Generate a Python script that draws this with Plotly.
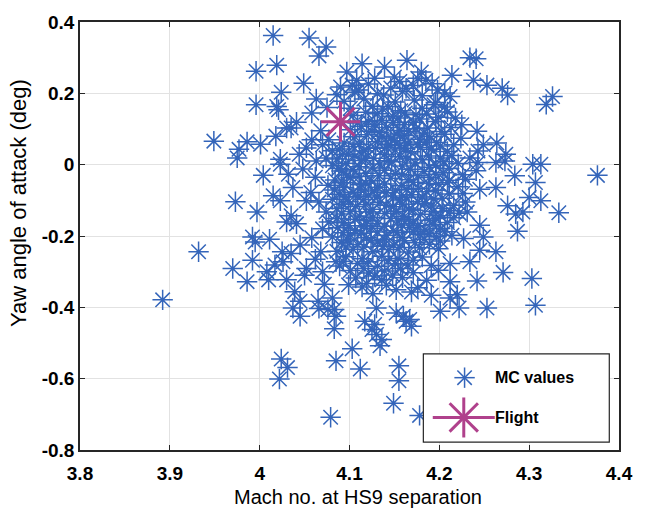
import plotly.graph_objects as go

# Monte-Carlo samples: (Mach no. at HS9 separation, yaw angle of attack in deg)
mc_points = [
    (4.015,0.362),(4.055,0.355),(4.074,0.330),(4.066,0.305),(4.019,0.279),(3.996,0.262),(4.049,0.228),
    (4.024,0.203),(4.063,0.184),(3.996,0.168),(4.019,0.163),(4.021,0.154),(4.041,0.119),(4.035,0.103),
    (4.030,0.103),(4.018,0.080),(3.949,0.066),(3.986,0.064),(4.001,0.057),(3.977,0.043),(3.975,0.019),
    (4.052,0.047),(4.070,0.056),(4.077,0.070),(4.023,0.015),(4.044,0.029),(4.063,0.010),(4.074,0.019),
    (4.081,0.039),
    (4.114,0.283),(4.139,0.274),(4.164,0.293),(4.234,0.300),(4.241,0.297),(4.097,0.260),(4.108,0.237),
    (4.103,0.223),(4.110,0.209),(4.128,0.242),(4.150,0.246),(4.156,0.233),(4.180,0.260),(4.176,0.242),
    (4.185,0.237),(4.163,0.214),(4.198,0.209),(4.214,0.251),(4.238,0.237),(4.138,0.195),(4.143,0.163),
    (4.181,0.158),(4.174,0.140),(4.212,0.191),(4.218,0.131),(4.225,0.112),(4.194,0.168),(4.121,0.121),
    (4.125,0.094),(4.154,0.131),(4.161,0.112),(4.187,0.103),(4.136,0.080),(4.143,0.056),(4.150,0.067),
    (4.165,0.061),(4.176,0.056),(4.099,0.029),(4.118,0.019),(4.139,0.029),(4.216,0.056),(4.201,0.019),
    (4.234,0.019),
    (4.253,0.223),(4.270,0.214),(4.276,0.195),(4.326,0.191),(4.319,0.169),(4.242,0.094),(4.249,0.056),
    (4.264,0.061),(4.243,0.038),(4.274,0.029),(4.273,0.010),(4.243,0.006),(4.263,0.006),(4.304,0.001),
    (4.313,0.001),
    (4.376,-0.030),(4.284,-0.031),(4.307,-0.050),(4.245,-0.069),(4.263,-0.064),(4.300,-0.092),(4.313,-0.101),
    (4.276,-0.115),(4.285,-0.138),(4.293,-0.133),(4.333,-0.135),(4.245,-0.170),(4.249,-0.203),(4.287,-0.187),
    (4.245,-0.240),(4.263,-0.244),(4.271,-0.302),(4.242,-0.326),(4.303,-0.319),(4.307,-0.394),(4.253,-0.402),
    (3.932,-0.244),(3.892,-0.379),
    (4.004,-0.030),(4.023,0.001),(4.032,-0.027),(4.037,-0.064),(4.057,-0.078),(4.052,-0.101),(4.015,-0.087),
    (4.023,-0.101),(3.973,-0.104),(3.997,-0.133),(4.035,-0.143),(4.030,-0.161),(4.041,-0.166),(4.074,-0.133),
    (4.077,-0.161),(4.070,-0.180),(3.992,-0.203),(3.995,-0.217),(4.011,-0.209),(3.992,-0.268),(4.025,-0.244),
    (4.035,-0.249),(4.026,-0.272),(3.970,-0.291),(4.017,-0.281),(4.008,-0.300),(4.010,-0.323),(4.030,-0.323),
    (4.052,-0.291),(3.986,-0.328),(4.068,-0.244),(4.070,-0.300),(4.085,-0.272),(4.039,-0.356),(4.045,-0.383),
    (4.065,-0.383),(4.081,-0.374),
    (4.037,-0.402),(4.045,-0.425),(4.066,-0.403),(4.076,-0.406),(4.083,-0.406),(4.085,-0.425),(4.083,-0.460),
    (4.024,-0.545),(4.031,-0.569),(4.022,-0.601),(4.085,-0.550),(4.079,-0.708),
    (4.117,-0.439),(4.128,-0.448),(4.125,-0.462),(4.130,-0.476),(4.136,-0.490),(4.134,-0.508),(4.130,-0.402),
    (4.152,-0.416),(4.160,-0.425),(4.163,-0.439),(4.167,-0.434),(4.169,-0.453),(4.201,-0.411),(4.222,-0.402),
    (4.103,-0.516),(4.112,-0.573),(4.155,-0.564),(4.155,-0.606),(4.149,-0.669),(4.178,-0.703),
    (4.229,-0.041),(4.212,-0.129),(4.231,-0.133),(4.227,-0.207),(4.234,-0.272),(4.212,-0.277),(4.212,-0.328),
    (4.220,-0.365),(4.212,-0.374),(4.099,-0.337),(4.119,-0.333),(4.152,-0.351),(4.165,-0.281),
    # dense core
    (4.090,0.218),(4.121,0.226),(4.146,0.215),(4.171,0.222),(4.192,0.227),
    (4.086,0.196),(4.106,0.203),(4.131,0.199),(4.159,0.205),(4.181,0.193),(4.206,0.201),
    (4.094,0.178),(4.116,0.184),(4.151,0.176),(4.172,0.181),(4.196,0.174),
    (4.101,0.158),(4.126,0.164),(4.157,0.151),(4.206,0.162),
    (4.104,0.138),(4.131,0.143),(4.148,0.136),(4.186,0.142),(4.199,0.133),
    (4.109,0.117),(4.136,0.124),(4.171,0.119),(4.196,0.121),
    (4.101,0.098),(4.141,0.104),(4.156,0.096),(4.174,0.101),(4.202,0.093),
    (4.106,0.078),(4.119,0.084),(4.146,0.075),(4.161,0.082),(4.189,0.079),(4.206,0.085),
    (4.094,0.061),(4.111,0.057),(4.131,0.064),(4.156,0.054),(4.186,0.063),
    (4.089,0.044),(4.116,0.038),(4.129,0.046),(4.151,0.041),(4.168,0.036),(4.191,0.043),(4.209,0.037),
    (4.086,0.016),(4.106,0.024),(4.127,0.018),(4.156,0.022),(4.181,0.014),(4.214,0.026),
    (4.081,-0.003),(4.096,0.004),(4.111,-0.006),(4.134,0.002),(4.159,-0.004),(4.173,0.005),(4.196,-0.002),(4.221,0.003),
    (4.091,-0.018),(4.118,-0.024),(4.139,-0.016),(4.151,-0.025),(4.183,-0.019),(4.204,-0.023),(4.241,-0.017),
    (4.084,-0.043),(4.101,-0.037),(4.124,-0.045),(4.146,-0.038),(4.166,-0.042),(4.189,-0.036),(4.211,-0.044),
    (4.076,-0.058),(4.094,-0.064),(4.113,-0.056),(4.131,-0.063),(4.158,-0.059),(4.177,-0.066),(4.199,-0.055),(4.221,-0.062),
    (4.089,-0.083),(4.104,-0.077),(4.121,-0.085),(4.141,-0.079),(4.169,-0.084),(4.186,-0.076),(4.211,-0.082),
    (4.081,-0.097),(4.099,-0.104),(4.116,-0.098),(4.134,-0.106),(4.156,-0.099),(4.176,-0.103),(4.194,-0.096),(4.229,-0.105),
    (4.086,-0.123),(4.107,-0.117),(4.126,-0.125),(4.149,-0.118),(4.166,-0.124),(4.191,-0.116),(4.204,-0.122),
    (4.091,-0.138),(4.111,-0.144),(4.139,-0.137),(4.161,-0.146),(4.179,-0.139),(4.201,-0.143),(4.222,-0.136),
    (4.094,-0.163),(4.119,-0.157),(4.131,-0.165),(4.154,-0.158),(4.171,-0.164),(4.189,-0.156),(4.209,-0.162),
    (4.087,-0.177),(4.106,-0.184),(4.124,-0.178),(4.149,-0.185),(4.167,-0.176),(4.184,-0.183),(4.201,-0.179),
    (4.081,-0.203),(4.101,-0.197),(4.119,-0.205),(4.141,-0.198),(4.159,-0.204),(4.179,-0.196),(4.197,-0.202),(4.214,-0.198),
    (4.091,-0.218),(4.109,-0.224),(4.131,-0.217),(4.149,-0.225),(4.173,-0.219),(4.189,-0.223),
    (4.086,-0.243),(4.104,-0.237),(4.126,-0.244),(4.144,-0.238),(4.166,-0.245),(4.199,-0.236),
    (4.096,-0.258),(4.114,-0.264),(4.136,-0.257),(4.154,-0.263),(4.181,-0.259),
    (4.089,-0.284),(4.109,-0.277),(4.131,-0.285),(4.151,-0.278),(4.191,-0.283),
    (4.101,-0.297),(4.121,-0.304),(4.139,-0.298),(4.171,-0.303),(4.199,-0.296),
    (4.107,-0.318),(4.136,-0.323),(4.159,-0.317),(4.186,-0.324),
    (4.114,-0.343),(4.141,-0.338),(4.176,-0.345),
    (4.126,-0.362),(4.169,-0.357),(4.191,-0.366),
    (4.062,-0.035),(4.048,-0.012),(4.066,-0.105),(4.058,-0.205),(4.045,-0.225),(4.062,-0.265),
    (4.050,-0.310),(4.072,-0.335),(4.058,0.070),(4.068,0.095),(4.058,0.145),(4.075,0.160),
    (4.118,0.147),(4.137,0.156),(4.162,0.145),(4.178,0.128),(4.209,0.148),
    (4.113,0.108),(4.128,0.113),(4.149,0.118),(4.166,0.093),(4.183,0.089),(4.213,0.104),
    (4.133,0.091),(4.153,0.086),(4.178,0.071),(4.197,0.062),(4.224,0.074),
    (4.104,0.051),(4.121,0.047),(4.141,0.049),(4.162,0.046),(4.179,0.048),(4.201,0.052),
    (4.092,0.028),(4.113,0.012),(4.143,0.011),(4.164,0.016),(4.188,0.024),(4.205,0.008),
    (4.088,-0.011),(4.104,-0.014),(4.126,-0.009),(4.147,0.008),(4.168,-0.013),(4.189,-0.007),(4.211,-0.011),
    (4.097,-0.029),(4.111,-0.033),(4.133,-0.031),(4.158,-0.028),(4.176,-0.031),(4.196,-0.027),(4.226,-0.028),
    (4.093,-0.051),(4.118,-0.052),(4.139,-0.054),(4.171,-0.049),(4.188,-0.053),(4.209,-0.051),
    (4.083,-0.071),(4.112,-0.068),(4.128,-0.074),(4.151,-0.071),(4.164,-0.069),(4.196,-0.072),(4.226,-0.081),
    (4.095,-0.091),(4.109,-0.089),(4.131,-0.091),(4.148,-0.088),(4.163,-0.093),(4.181,-0.091),(4.203,-0.094),
    (4.093,-0.111),(4.118,-0.112),(4.141,-0.114),(4.159,-0.111),(4.184,-0.109),(4.216,-0.114),
    (4.101,-0.131),(4.123,-0.133),(4.152,-0.131),(4.171,-0.128),(4.193,-0.131),
    (4.086,-0.151),(4.106,-0.153),(4.126,-0.148),(4.146,-0.151),(4.166,-0.153),(4.196,-0.151),(4.216,-0.149),
    (4.099,-0.171),(4.116,-0.171),(4.139,-0.173),(4.158,-0.169),(4.176,-0.171),(4.193,-0.168),
    (4.093,-0.191),(4.113,-0.192),(4.131,-0.189),(4.153,-0.191),(4.171,-0.188),(4.189,-0.192),(4.206,-0.188),
    (4.098,-0.211),(4.124,-0.212),(4.139,-0.209),(4.161,-0.213),(4.183,-0.209),(4.201,-0.214),
    (4.096,-0.231),(4.116,-0.231),(4.137,-0.229),(4.156,-0.232),(4.178,-0.233),
    (4.093,-0.271),(4.121,-0.272),(4.143,-0.269),(4.171,-0.268),
    (4.116,-0.291),(4.157,-0.291),(4.128,-0.312),(4.148,-0.309),
]
mc_mach = [p[0] for p in mc_points]
mc_yaw = [p[1] for p in mc_points]

flight_mach = [4.09]
flight_yaw = [0.12]

x_ticks = [3.8, 3.9, 4.0, 4.1, 4.2, 4.3, 4.4]
x_ticktext = ["3.8", "3.9", "4", "4.1", "4.2", "4.3", "4.4"]
y_ticks = [-0.8, -0.6, -0.4, -0.2, 0.0, 0.2, 0.4]
y_ticktext = ["-0.8", "-0.6", "-0.4", "-0.2", "0", "0.2", "0.4"]

x_title = "Mach no. at HS9 separation"
y_title = "Yaw angle of attack (deg)"
legend_labels = ["MC values", "Flight"]

BLUE = "#3465BA"
MAGENTA = "#B0418C"
AXIS = "#262626"
FONT = "Liberation Sans"

fig = go.Figure()
fig.add_trace(go.Scatter(
    x=mc_mach, y=mc_yaw, mode="markers", name=legend_labels[0], showlegend=False,
    marker=dict(symbol="asterisk-open", size=17, color=BLUE, line=dict(color=BLUE, width=1.5)),
))
fig.add_trace(go.Scatter(
    x=flight_mach, y=flight_yaw, mode="markers", name=legend_labels[1], showlegend=False,
    marker=dict(symbol="asterisk-open", size=33, color=MAGENTA, line=dict(color=MAGENTA, width=3)),
))

tickfont = dict(family=FONT, size=19, color="black", weight="bold")
common = dict(ticks="inside", ticklen=5, tickcolor=AXIS, tickwidth=1, showline=True, linecolor=AXIS,
              linewidth=1.5, mirror="allticks", showgrid=True, gridcolor="#E2E2E2", gridwidth=1,
              zeroline=False, tickfont=tickfont)
fig.update_xaxes(range=[3.8, 4.4], tickvals=x_ticks, ticktext=x_ticktext, ticklabelstandoff=5, **common)
fig.update_yaxes(range=[-0.8, 0.4], tickvals=y_ticks, ticktext=y_ticktext, **common)

# custom legend (box, glyphs, labels) in paper coordinates
shapes = [dict(type="rect", xref="paper", yref="paper", x0=0.637, x1=0.982, y0=0.0185, y1=0.2245,
               line=dict(color=AXIS, width=1.2), fillcolor="white", layer="above")]

def star(cx, cy, r, color, width):
    d = round(r * 0.708, 2)
    segs = [(-r, 0, r, 0), (0, -r, 0, r), (-d, -d, d, d), (-d, d, d, -d)]
    out = []
    for x0, y0, x1, y1 in segs:
        out.append(dict(type="line", xref="paper", yref="paper", xsizemode="pixel", ysizemode="pixel",
                        xanchor=cx, yanchor=cy, x0=x0, x1=x1, y0=y0, y1=y1,
                        line=dict(color=color, width=width), layer="above"))
    return out

shapes += star(0.7135, 0.169, 10.2, BLUE, 1.5)
shapes += [dict(type="line", xref="paper", yref="paper", xsizemode="pixel", ysizemode="pixel",
                xanchor=0.712, yanchor=0.076, x0=-31, x1=31, y0=0, y1=0,
                line=dict(color=MAGENTA, width=3), layer="above")]
shapes += star(0.712, 0.076, 20, MAGENTA, 3)

legfont = dict(family=FONT, size=16, color="black", weight="bold")
annotations = [
    dict(text=legend_labels[0], xref="paper", yref="paper", x=0.766, y=0.169, xanchor="left",
         yanchor="middle", showarrow=False, font=legfont),
    dict(text=legend_labels[1], xref="paper", yref="paper", x=0.766, y=0.076, xanchor="left",
         yanchor="middle", showarrow=False, font=legfont),
    dict(text=x_title, xref="paper", yref="paper", x=0.5, y=0, xanchor="center", yanchor="middle",
         xshift=8, yshift=-47, showarrow=False, font=dict(family=FONT, size=20, color="black")),
    dict(text=y_title, xref="paper", yref="paper", x=0, y=0.5, xanchor="center", yanchor="middle",
         xshift=-62, yshift=33, textangle=-90, showarrow=False,
         font=dict(family=FONT, size=22, color="black")),
]

fig.update_layout(
    width=645, height=512, margin=dict(l=80, r=17, t=18, b=62),
    paper_bgcolor="white", plot_bgcolor="white", showlegend=False,
    shapes=shapes, annotations=annotations,
)

fig.write_html("out.html")
